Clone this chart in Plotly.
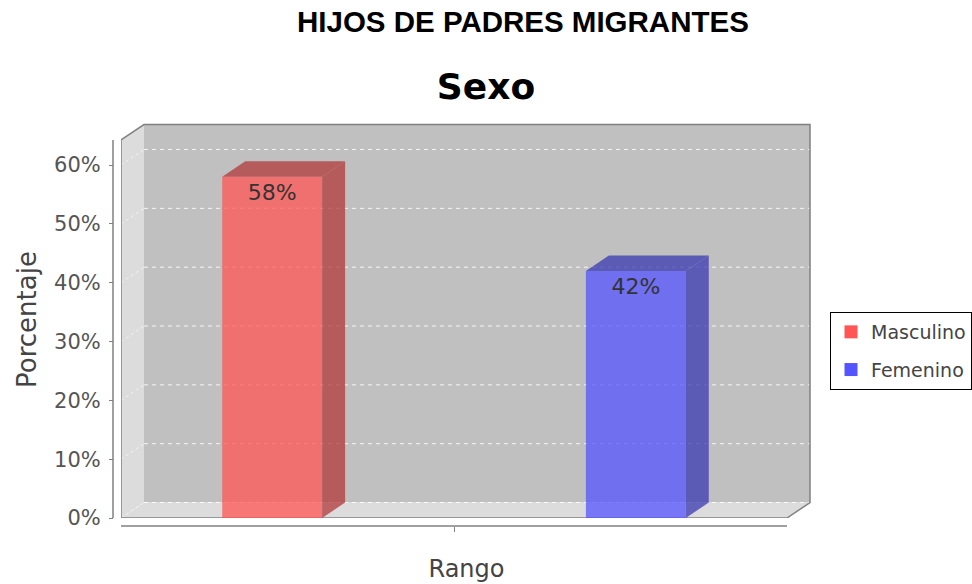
import plotly.graph_objs as go

# data
series_names = ['Masculino', 'Femenino']
percentages = [58, 42]
y_ticks = [0, 10, 20, 30, 40, 50, 60]
y_tick_labels = ['0%', '10%', '20%', '30%', '40%', '50%', '60%']

# colours (jfreechart defaults with foreground alpha)
front_colors = ['rgba(255,85,85,0.76)', 'rgba(85,85,255,0.76)']
side_colors = ['rgba(178,59,59,0.76)', 'rgba(59,59,178,0.76)']
legend_colors = ['#ff5555', '#5555ff']

# fake 3d box, in axis units
AXIS_TOP = 64.25     # top of the front plane
DX = 0.0345          # depth offset along x
DY = 2.63            # depth offset along y
BAR_W = 0.15
BAR_OFFSETS = [-0.348, 0.198]

FONT = 'DejaVu Sans'
GREY = '#808080'


def bar_traces():

	'''
	Front faces as real bars, top and side faces as filled scatters
	Return : `list`
	'''

	traces = []
	for i in range(len(series_names)):
		v = percentages[i]
		x0 = BAR_OFFSETS[i]
		x1 = x0 + BAR_W
		traces.append(go.Bar(
			x=[0], y=[v], width=[BAR_W], offset=[x0],
			marker=dict(color=front_colors[i], line=dict(width=0)),
			text=[str(v) + '%'], textposition='inside', insidetextanchor='end',
			textfont=dict(family=FONT, size=22, color='#333333'),
			showlegend=False, hoverinfo='skip'
		))
		# top face
		traces.append(go.Scatter(
			x=[x0, x1, x1 + DX, x0 + DX, x0],
			y=[v, v, v + DY, v + DY, v],
			fill='toself', fillcolor=side_colors[i], mode='lines',
			line=dict(width=0, color='rgba(0,0,0,0)'),
			showlegend=False, hoverinfo='skip'
		))
		# side face
		traces.append(go.Scatter(
			x=[x1, x1 + DX, x1 + DX, x1, x1],
			y=[0, DY, v + DY, v, 0],
			fill='toself', fillcolor=side_colors[i], mode='lines',
			line=dict(width=0, color='rgba(0,0,0,0)'),
			showlegend=False, hoverinfo='skip'
		))
	# legend only entries
	for i in range(len(series_names)):
		traces.append(go.Scatter(
			x=[None], y=[None], mode='markers', name=series_names[i],
			legendgroup=series_names[i],
			marker=dict(symbol='square', size=13, color=legend_colors[i])
		))
	return traces


def box_shapes():

	'''
	Walls, floor, grid and outlines of the 3d plot box
	Return : `list`
	'''

	L, R = -0.5, 0.5
	shapes = []
	shapes.append(dict(type='rect', xref='x', yref='y', layer='below',
		x0=L + DX, x1=R + DX, y0=DY, y1=AXIS_TOP + DY,
		fillcolor='#c0c0c0', line=dict(width=0)))
	shapes.append(dict(type='path', xref='x', yref='y', layer='below',
		path='M %f,0 L %f,%f L %f,%f L %f,%f Z' % (L, L, AXIS_TOP, L + DX, AXIS_TOP + DY, L + DX, DY),
		fillcolor='#dcdcdc', line=dict(width=0)))
	shapes.append(dict(type='path', xref='x', yref='y', layer='below',
		path='M %f,0 L %f,0 L %f,%f L %f,%f Z' % (L, R, R + DX, DY, L + DX, DY),
		fillcolor='#dcdcdc', line=dict(width=0)))
	for t in y_ticks:
		shapes.append(dict(type='line', xref='x', yref='y', layer='below',
			x0=L + DX, x1=R + DX, y0=t + DY, y1=t + DY,
			line=dict(color='rgba(255,255,255,0.85)', width=1, dash='4px,4px')))
		shapes.append(dict(type='line', xref='x', yref='y', layer='below',
			x0=L, x1=L + DX, y0=t, y1=t + DY,
			line=dict(color='rgba(255,255,255,0.6)', width=1, dash='3px,3px')))
	shapes.append(dict(type='path', xref='x', yref='y', layer='below',
		path='M %f,0 L %f,%f L %f,%f L %f,%f L %f,%f L %f,0 Z' % (
			L, L, AXIS_TOP, L + DX, AXIS_TOP + DY, R + DX, AXIS_TOP + DY, R + DX, DY, R),
		line=dict(color=GREY, width=1.5)))
	# detached axis lines
	shapes.append(dict(type='line', xref='paper', yref='y', x0=0, x1=0, y0=0, y1=AXIS_TOP,
		line=dict(color=GREY, width=1.5)))
	shapes.append(dict(type='line', xref='x', yref='paper', x0=L, x1=R, y0=0, y1=0,
		line=dict(color=GREY, width=1.5)))
	return shapes


layout = go.Layout(
	width=972, height=584,
	margin=dict(l=113, r=160, t=121, b=58, autoexpand=False),
	paper_bgcolor='white', plot_bgcolor='white',
	barmode='overlay',
	title=dict(text='<b>Sexo</b>', x=0.5, xref='container', xanchor='center',
		y=1 - 86 / 584.0, yref='container', yanchor='middle',
		font=dict(family=FONT, size=36, color='black')),
	xaxis=dict(domain=[8 / 699.0, 1], range=[-0.5, 0.5375], anchor='free', position=0,
		tickvals=[0], ticktext=[''], ticks='outside', ticklen=5, tickcolor=GREY,
		showgrid=False, zeroline=False, showline=False,
		title=dict(text='Rango', standoff=26, font=dict(family=FONT, size=24, color='#444444'))),
	yaxis=dict(domain=[8 / 405.0, 1], range=[0, 67.48], anchor='free', position=0,
		tickvals=y_ticks, ticktext=y_tick_labels, ticks='outside', ticklen=4, tickcolor=GREY,
		ticklabelstandoff=4,
		tickfont=dict(family=FONT, size=21, color='#555555'),
		showgrid=False, zeroline=False, showline=False,
		title=dict(text='Porcentaje', standoff=9, font=dict(family=FONT, size=26, color='#444444'))),
	legend=dict(x=(830 - 113) / 699.0, y=(526 - 312) / 405.0, xanchor='left', yanchor='top',
		bgcolor='white', bordercolor='black', borderwidth=1,
		traceorder='grouped', tracegroupgap=10,
		font=dict(family=FONT, size=19, color='#444444')),
	shapes=box_shapes(),
	annotations=[dict(text='<b>HIJOS DE PADRES MIGRANTES</b>', xref='paper', yref='paper',
		x=(522.5 - 113) / 699.0, y=(526 - 22) / 405.0, xanchor='center', yanchor='middle',
		showarrow=False, font=dict(family='Liberation Sans', size=29.5, color='black'))]
)

fig = go.Figure(data=bar_traces(), layout=layout)
# the page body has a default 8px margin, drop it so the chart sits at 0,0
fig.write_html('out.html', config={'displayModeBar': False},
	post_script="document.body.style.margin = '0';")
